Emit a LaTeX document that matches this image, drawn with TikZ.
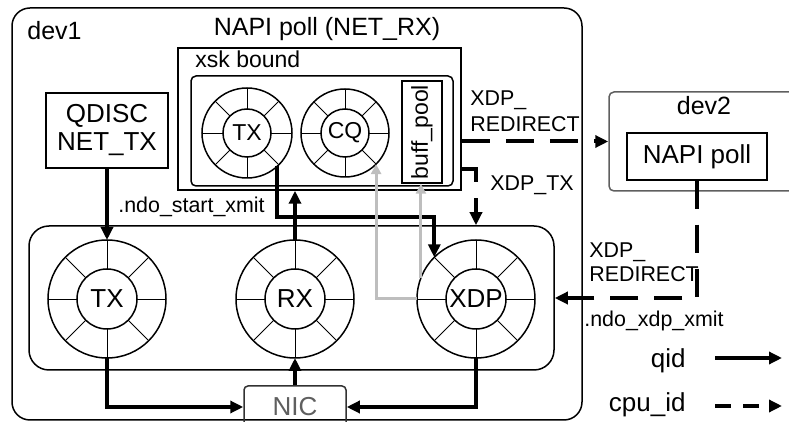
\documentclass[tikz,border=0pt]{standalone}
\usepackage{fontspec}
\setmainfont{Liberation Sans}
\usetikzlibrary{arrows.meta, positioning, calc}
\definecolor{PaleGray}{RGB}{190,190,190}
\definecolor{MidGray}{RGB}{95,95,95}
\definecolor{DarkGray}{RGB}{50,50,50}
\newcommand{\fsA}{\fontsize{10.7}{13}\selectfont}
\newcommand{\fsB}{\fontsize{11.5}{13}\selectfont}
\newcommand{\fsC}{\fontsize{12.5}{15}\selectfont}
\newcommand{\fsD}{\fontsize{13}{14}\selectfont}
% ring buffer: name, centre, outer size, inner size, label, font
\newcommand{\ringq}[6]{%
  \node[ring, minimum size=#3] (#1) at (#2) {};
  \node[ring, minimum size=#4, font=#6] (#1in) at (#2) {#5};
  \foreach \a in {0,45,...,315}
    \draw[spoke] (#1in.\a) -- (#1.\a);
}

\begin{document}
\begin{tikzpicture}[x=0.5pt, y=-0.5pt,
    box/.style={draw, line width=0.75pt, inner sep=0pt},
    ring/.style={draw, circle, line width=0.75pt, inner sep=0pt, outer sep=0pt},
    spoke/.style={line width=0.45pt},
    lbl/.style={font=\fsA, inner sep=0pt},
    qid/.style={line width=2pt, -{Triangle[length=6.5pt,width=6pt]}},
    cpu/.style={qid, dash pattern=on 14pt off 8pt},
    gq/.style={line width=1.5pt, PaleGray, -{Triangle[length=5pt,width=5pt]}}]
    \clip (0,0) rectangle (789,422);

    % dev1
    \node[box, rounded corners=9pt, minimum width=285pt, minimum height=206pt] (dev1) at (297,214) {};
    \node[lbl, font=\fsC, anchor=base west] at (27,40) {dev1};
    \node[lbl, font=\fsC, anchor=base] at (327,36) {NAPI poll (NET\_RX)};

    % xsk bound
    \node[box, minimum width=141.5pt, minimum height=71pt] (xsk) at (319.5,119) {};
    \node[lbl, font=\fsB, anchor=base west] at (195,68) {xsk bound};
    \node[box, rounded corners=2.5pt, minimum width=131pt, minimum height=55pt] (umem) at (322,131) {};
    \ringq{xtx}{247,133}{45pt}{24pt}{TX}{\fsB}
    \ringq{xcq}{345,133}{44pt}{24pt}{CQ}{\fsB}
    \node[box, minimum width=20pt, minimum height=51pt] (buff) at (422,132) {};
    \node[lbl, font=\fsB, rotate=90] at (buff) {buff\_pool};

    % qdisc
    \node[box, minimum width=61pt, minimum height=37.5pt, align=center, font=\fsD] (qdisc) at (107,130.5) {QDISC\\NET\_TX};

    % device queues
    \node[box, rounded corners=10pt, minimum width=262.5pt, minimum height=72pt] (qbox) at (291.5,298) {};
    \ringq{txq}{107,299}{59pt}{30pt}{TX}{\fsD}
    \ringq{rxq}{295,299}{59pt}{30pt}{RX}{\fsD}
    \ringq{xdp}{476,299}{59pt}{30pt}{XDP}{\fsD}

    % NIC
    \node[box, draw=DarkGray, text=MidGray, rounded corners=2pt, minimum width=51pt, minimum height=21pt, font=\fsD] (nic) at (295,407) {NIC};

    % dev2
    \node[box, draw=MidGray, rounded corners=2.5pt, minimum width=105.5pt, minimum height=49.5pt] (dev2) at (714.5,141.5) {};
    \node[lbl, font=\fsC, anchor=base] at (704,115) {dev2};
    \node[box, minimum width=70pt, minimum height=23.5pt, font=\fsD] (napi2) at (697,156.5) {NAPI poll};

    % qid paths
    \draw[qid] (qdisc.south) -- (txq.north);
    \draw[qid] (txq.south) |- (nic.west);
    \draw[qid] (nic.north) -- (rxq.south);
    \draw[qid] (xdp.south) |- (nic.east);
    \draw[qid] (rxq.north) -- (rxq.north |- xsk.south);
    \draw[qid] (xtx.-48) |- ($(xdp.135)+(0,-40)$) -- (xdp.135);

    % buffers back to xsk
    \draw[gq] (xdp.west) -| (xcq.-45);
    \draw[gq] (xdp.159) -- (xdp.159 |- buff.south);

    % cpu_id paths
    \draw[cpu] ($(xsk.south east)+(0,-22)$) -| (qbox.north -| xdp.north);
    \draw[cpu] (xsk.east |- dev2.west) -- (dev2.west);
    \draw[cpu] (napi2.south) |- (qbox.east);

    % labels
    \node[lbl, anchor=base west] at (118,213) {.ndo\_start\_xmit};
    \node[lbl, anchor=base west] at (470,106) {XDP\_};
    \node[lbl, anchor=base west] at (470,132) {REDIRECT};
    \node[lbl, anchor=base west] at (490,191) {XDP\_TX};
    \node[lbl, anchor=base west] at (589,258) {XDP\_};
    \node[lbl, anchor=base west] at (589,282) {REDIRECT};
    \node[lbl, anchor=base west] at (584,327) {.ndo\_xdp\_xmit};

    % legend
    \node[lbl, font=\fsD, anchor=base east] (qidlbl) at (686,368) {qid};
    \node[lbl, font=\fsD, anchor=base east] (cpulbl) at (686,412) {cpu\_id};
    \coordinate (qidS) at (715,358);
    \coordinate (qidE) at (782,358);
    \coordinate (cpuS) at (715,406);
    \coordinate (cpuE) at (782,406);
    \draw[qid] (qidS) -- (qidE);
    \draw[qid, dash pattern=on 8pt off 6pt] (cpuS) -- (cpuE);
\end{tikzpicture}
\end{document}
